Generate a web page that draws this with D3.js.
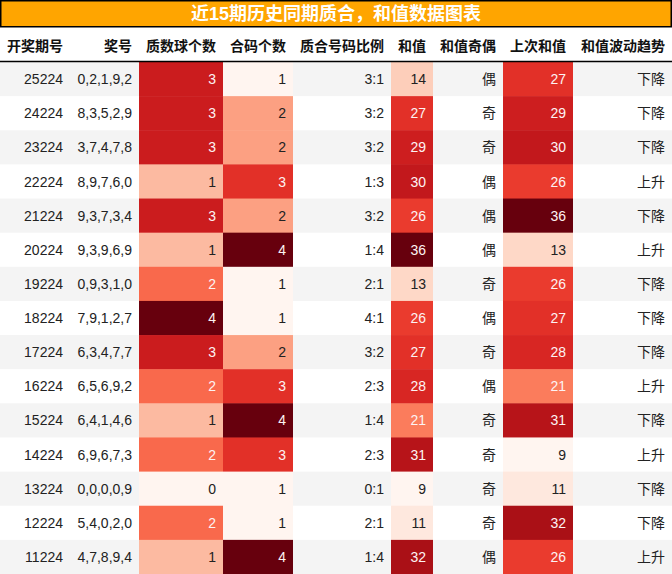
<!DOCTYPE html>
<html>
<head>
<meta charset="utf-8">
<script src="https://cdn.jsdelivr.net/npm/d3@7"></script>
<style>
  body { margin: 0; background: #fff; }
  text { font-family: "Liberation Sans", "Noto Sans CJK SC", sans-serif; }
</style>
</head>
<body>
<svg id="chart"></svg>
<script>
// 表格数据
var headers = ['开奖期号', '奖号', '质数球个数', '合码个数', '质合号码比例', '和值', '和值奇偶', '上次和值', '和值波动趋势']
var periods = ['25224', '24224', '23224', '22224', '21224', '20224', '19224', '18224', '17224', '16224', '15224', '14224', '13224', '12224', '11224']
var numbers = ['0,2,1,9,2', '8,3,5,2,9', '3,7,4,7,8', '8,9,7,6,0', '9,3,7,3,4', '9,3,9,6,9', '0,9,3,1,0', '7,9,1,2,7', '6,3,4,7,7', '6,5,6,9,2', '6,4,1,4,6', '6,9,6,7,3', '0,0,0,0,9', '5,4,0,2,0', '4,7,8,9,4']
var primeCounts = [3, 3, 3, 1, 3, 1, 2, 4, 3, 2, 1, 2, 0, 2, 1]
var compositeCounts = [1, 2, 2, 3, 2, 4, 1, 1, 2, 3, 4, 3, 1, 1, 4]
var ratios = ['3:1', '3:2', '3:2', '1:3', '3:2', '1:4', '2:1', '4:1', '3:2', '2:3', '1:4', '2:3', '0:1', '2:1', '1:4']
var sums = [14, 27, 29, 30, 26, 36, 13, 26, 27, 28, 21, 31, 9, 11, 32]
var parity = ['偶', '奇', '奇', '偶', '偶', '偶', '奇', '偶', '奇', '偶', '奇', '奇', '奇', '奇', '偶']
var lastSums = [27, 29, 30, 26, 36, 13, 26, 27, 28, 21, 31, 9, 11, 32, 26]
var trends = ['下降', '下降', '下降', '上升', '下降', '上升', '下降', '下降', '下降', '上升', '下降', '上升', '下降', '下降', '上升']

var WIDTH = 672
var HEIGHT = 574
var TITLE_H = 27
var HEAD_BOTTOM = 62
var colWidths = [70, 69, 84, 70, 98, 42, 70, 70, 99]

var columns = [periods, numbers, primeCounts, compositeCounts, ratios, sums, parity, lastSums, trends]
var heatCols = [2, 3, 5, 7]

var svg = d3.select('#chart')
  .attr('width', WIDTH)
  .attr('height', HEIGHT)

// 列位置
var colX = [0]
colWidths.forEach(function(w, i) { colX.push(colX[i] + w) })

var y = d3.scaleBand()
  .domain(d3.range(periods.length))
  .range([HEAD_BOTTOM, HEIGHT])
  .paddingInner(0)

// 斑马纹
svg.selectAll('rect.stripe')
  .data(d3.range(periods.length))
  .enter().append('rect')
  .attr('class', 'stripe')
  .attr('x', 0)
  .attr('y', function(d) { return y(d) })
  .attr('width', WIDTH)
  .attr('height', y.bandwidth() + 0.5)
  .attr('fill', function(d) { return d % 2 === 0 ? '#f4f4f4' : '#ffffff' })

// 热力单元格
heatCols.forEach(function(ci) {
  var vals = columns[ci]
  var color = d3.scaleSequential(d3.interpolateReds).domain(d3.extent(vals))
  var t = d3.scaleLinear().domain(d3.extent(vals)).range([0, 1])
  svg.selectAll('rect.heat' + ci)
    .data(vals)
    .enter().append('rect')
    .attr('x', colX[ci])
    .attr('y', function(d, i) { return y(i) })
    .attr('width', colWidths[ci])
    .attr('height', y.bandwidth() + 0.5)
    .attr('fill', function(d) { return color(d) })
  svg.selectAll('text.heat' + ci)
    .data(vals)
    .enter().append('text')
    .attr('x', colX[ci + 1] - 7)
    .attr('y', function(d, i) { return y(i) + y.bandwidth() / 2 })
    .attr('dy', '0.36em')
    .attr('text-anchor', 'end')
    .attr('font-size', 14)
    .attr('fill', function(d) { return t(d) > 0.4 ? '#fdf3f3' : '#222' })
    .text(function(d) { return d })
})

// 普通文字列
columns.forEach(function(vals, ci) {
  if (heatCols.indexOf(ci) >= 0) return
  svg.selectAll('text.col' + ci)
    .data(vals)
    .enter().append('text')
    .attr('x', colX[ci + 1] - 7)
    .attr('y', function(d, i) { return y(i) + y.bandwidth() / 2 })
    .attr('dy', '0.36em')
    .attr('text-anchor', 'end')
    .attr('font-size', 14)
    .attr('fill', '#222')
    .text(function(d) { return d })
})

// 表头
svg.selectAll('text.head')
  .data(headers)
  .enter().append('text')
  .attr('x', function(d, i) { return colX[i + 1] - 7 })
  .attr('y', (TITLE_H + HEAD_BOTTOM) / 2 + 1)
  .attr('dy', '0.36em')
  .attr('text-anchor', 'end')
  .attr('font-size', 14)
  .attr('font-weight', 'bold')
  .attr('fill', '#111')
  .text(function(d) { return d })

svg.append('line')
  .attr('x1', 0).attr('x2', WIDTH)
  .attr('y1', HEAD_BOTTOM - 0.5).attr('y2', HEAD_BOTTOM - 0.5)
  .attr('stroke', '#000')
  .attr('stroke-width', 1.5)

// 标题
svg.append('rect')
  .attr('x', 0.75).attr('y', 0.75)
  .attr('width', WIDTH - 1.5).attr('height', TITLE_H - 1)
  .attr('fill', '#ffa500')
  .attr('stroke', '#000')
  .attr('stroke-width', 1.5)

svg.append('text')
  .attr('x', WIDTH / 2)
  .attr('y', TITLE_H / 2)
  .attr('dy', '0.36em')
  .attr('text-anchor', 'middle')
  .attr('font-size', 18)
  .attr('font-weight', 'bold')
  .attr('fill', '#fff')
  .text('近15期历史同期质合，和值数据图表')
</script>
</body>
</html>
